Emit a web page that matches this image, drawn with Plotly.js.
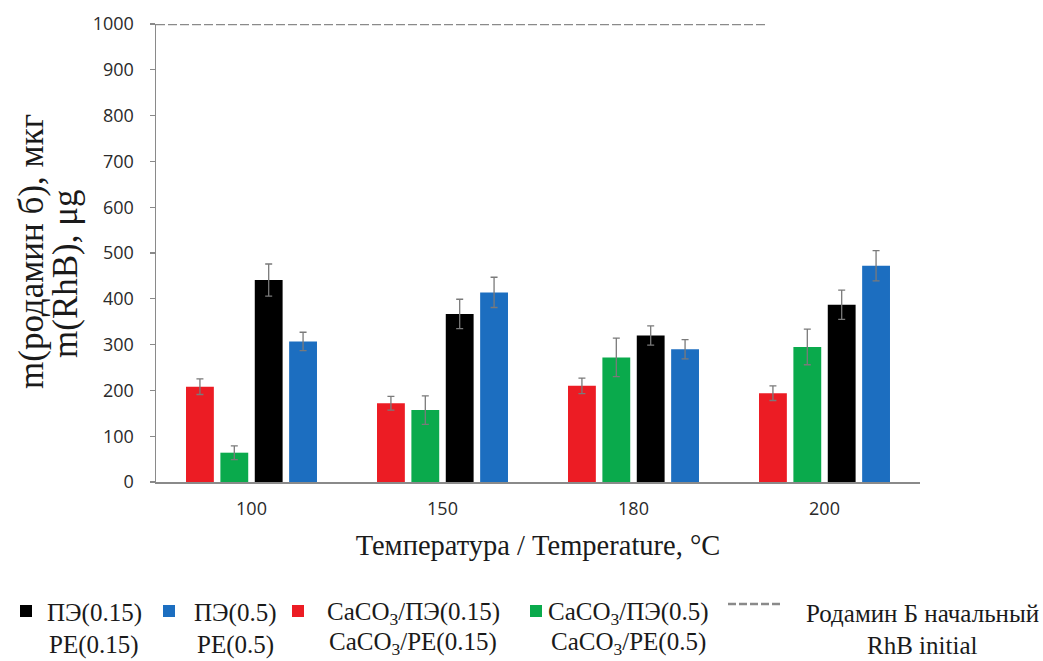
<!DOCTYPE html>
<html>
<head>
<meta charset="utf-8">
<script src="https://cdn.plot.ly/plotly-3.0.1.min.js"></script>
<style>html,body{margin:0;padding:0;background:#fff;}#chart{width:1043px;height:661px;}</style>
</head>
<body>
<div id="chart"></div>
<script>
// ---- data ----
const temperatures = ["100", "150", "180", "200"];
const pe015 = [441, 367, 320, 387];
const pe015Err = [35, 32, 21, 32];
const pe05 = [307, 414, 290, 472];
const pe05Err = [20, 33, 21, 33];
const caco3Pe015 = [208, 172, 210, 194];
const caco3Pe015Err = [17, 15, 17, 16];
const caco3Pe05 = [64, 157, 272, 295];
const caco3Pe05Err = [15, 31, 42, 39];
const rhbInitial = [1000, 1000];
const rhbInitialSpan = [-0.5, 2.7];
const seriesNamesRu = ["ПЭ(0.15)", "ПЭ(0.5)", "CaCO<sub>3</sub>/ПЭ(0.15)", "CaCO<sub>3</sub>/ПЭ(0.5)", "Родамин Б начальный"];
const seriesNamesEn = ["PE(0.15)", "PE(0.5)", "CaCO<sub>3</sub>/PE(0.15)", "CaCO<sub>3</sub>/PE(0.5)", "RhB initial"];
const yTitleRu = "m(родамин б), мкг";
const yTitleEn = "m(RhB), μg";
const xTitle = "Температура / Temperature, °C";

const xIdx = temperatures.map((_, i) => i);
const errStyle = (arr) => ({type: 'data', array: arr, visible: true, color: '#7a7a7a', thickness: 1.3, width: 3.5});
const COLORS = {black: '#000000', blue: '#1c6ec0', red: '#ec1c24', green: '#0aaa4c', dash: '#8a8a8a'};
const nm = (i) => seriesNamesRu[i] + ' / ' + seriesNamesEn[i];

const traces = [
  {type: 'bar', x: xIdx, y: caco3Pe015, error_y: errStyle(caco3Pe015Err), marker: {color: COLORS.red}, name: nm(2), showlegend: false},
  {type: 'bar', x: xIdx, y: caco3Pe05, error_y: errStyle(caco3Pe05Err), marker: {color: COLORS.green}, name: nm(3), showlegend: false},
  {type: 'bar', x: xIdx, y: pe015, error_y: errStyle(pe015Err), marker: {color: COLORS.black}, name: nm(0), showlegend: false},
  {type: 'bar', x: xIdx, y: pe05, error_y: errStyle(pe05Err), marker: {color: COLORS.blue}, name: nm(1), showlegend: false},
  {type: 'scatter', mode: 'lines', x: rhbInitialSpan, y: rhbInitial, line: {color: COLORS.dash, width: 2.5, dash: '9px,3px'}, name: nm(4), showlegend: false, hoverinfo: 'skip'}
];

// plot area geometry in pixels
const L = 156, R = 920, T = 24, B = 482;
const px = (x) => (x - L) / (R - L);
const py = (y) => (B - y) / (B - T);

const serif = 'Liberation Serif, Times New Roman, serif';
const textCol = '#1a1a1a';
const legFont = {family: serif, size: 25, color: textCol};

const legendItems = [
  {swatch: COLORS.black, sx: 26, sy: 611, tx: 94},
  {swatch: COLORS.blue, sx: 169, sy: 611, tx: 235},
  {swatch: COLORS.red, sx: 298, sy: 611, tx: 413},
  {swatch: COLORS.green, sx: 536, sy: 611, tx: 628},
  {swatch: null, sx: 755, sy: 604, tx: 922}
];

const shapes = [];
const annotations = [];
legendItems.forEach((it, i) => {
  if (it.swatch) {
    shapes.push({type: 'rect', xref: 'paper', yref: 'paper', x0: px(it.sx - 6), x1: px(it.sx + 6), y0: py(it.sy + 6), y1: py(it.sy - 6), fillcolor: it.swatch, line: {width: 0}});
  } else {
    shapes.push({type: 'line', xref: 'paper', yref: 'paper', x0: px(it.sx - 27), x1: px(it.sx + 27), y0: py(it.sy), y1: py(it.sy), line: {color: COLORS.dash, width: 2.5, dash: '8px,3px'}});
  }
  annotations.push({xref: 'paper', yref: 'paper', x: px(it.tx), y: py(613), xanchor: 'center', yanchor: 'middle', text: seriesNamesRu[i], showarrow: false, font: legFont});
  annotations.push({xref: 'paper', yref: 'paper', x: px(it.tx), y: py(661), xanchor: 'center', yanchor: 'bottom', text: seriesNamesEn[i], showarrow: false, font: legFont});
});

// y-axis title, two lines
const yTitleFont = {family: serif, size: 35, color: textCol};
annotations.push({xref: 'paper', yref: 'paper', x: px(31), y: py(252), xanchor: 'center', yanchor: 'middle', textangle: -90, text: yTitleRu, showarrow: false, font: yTitleFont});
annotations.push({xref: 'paper', yref: 'paper', x: px(65), y: py(274), xanchor: 'center', yanchor: 'middle', textangle: -90, text: yTitleEn, showarrow: false, font: yTitleFont});

const tickFont = {family: 'Open Sans, sans-serif', size: 18, color: '#2a2a2a'};

const layout = {
  width: 1043, height: 661,
  margin: {l: L, r: 1043 - R, t: T, b: 661 - B, pad: 0},
  paper_bgcolor: '#ffffff', plot_bgcolor: '#ffffff',
  barmode: 'group', bargap: 0.28, bargroupgap: 0.19,
  showlegend: false,
  xaxis: {
    range: [-0.5, temperatures.length - 0.5],
    tickmode: 'array', tickvals: xIdx, ticktext: temperatures,
    showgrid: false, zeroline: false, showline: true, linecolor: '#8a8a8a', linewidth: 1.5,
    ticks: '', tickfont: tickFont, ticklabelstandoff: 10,
    title: {text: xTitle, font: {family: serif, size: 28.5, color: textCol}, standoff: 16}
  },
  yaxis: {
    range: [0, 1000], tickvals: [0,100,200,300,400,500,600,700,800,900,1000],
    showgrid: false, zeroline: false, showline: true, linecolor: '#8a8a8a', linewidth: 1.5,
    ticks: 'outside', ticklen: 5, tickcolor: '#8a8a8a', tickwidth: 1.3,
    tickfont: tickFont, ticklabelstandoff: 12
  },
  shapes: shapes,
  annotations: annotations
};

Plotly.newPlot('chart', traces, layout, {displayModeBar: false, staticPlot: true});
</script>
</body>
</html>
